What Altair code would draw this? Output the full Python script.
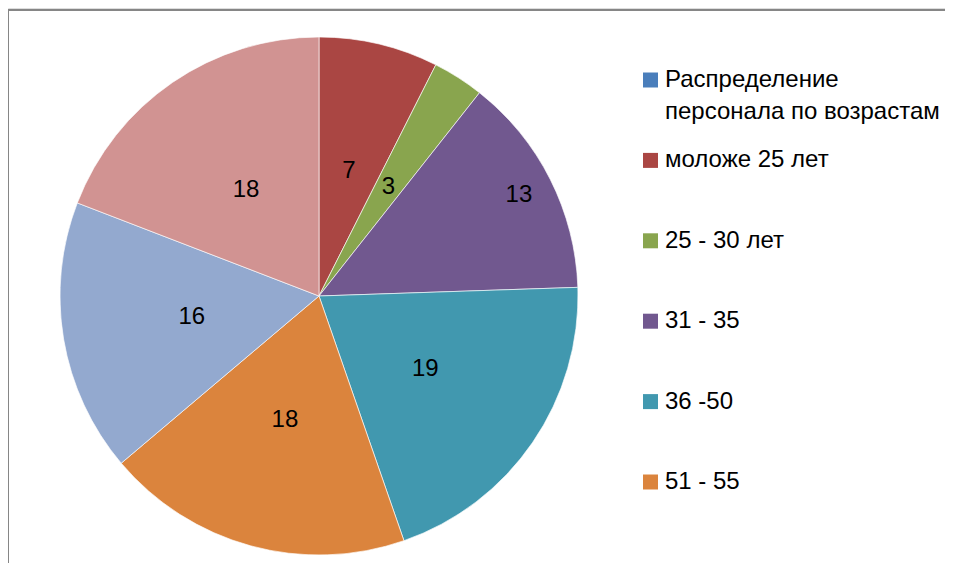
import altair as alt
import pandas as pd

# ---- data ----
categories = [
    "Распределение персонала по возрастам",
    "моложе 25 лет",
    "25 - 30 лет",
    "31 - 35",
    "36 -50",
    "51 - 55",
    "56 - 60",
    "старше 60",
]
values = [0, 7, 3, 13, 19, 18, 16, 18]
colors = ["#4A7EBB", "#AA4643", "#89A54E", "#71588F", "#4198AF", "#DB843D", "#93A9CF", "#D19392"]
legend_labels = [
    "Распределение\nперсонала по возрастам",
    "моложе 25 лет",
    "25 - 30 лет",
    "31 - 35",
    "36 -50",
    "51 - 55",
]
outer_label_category = "31 - 35"
title_text = "Распределение персонала по возрастам"

df = pd.DataFrame({"category": categories, "value": values, "idx": list(range(len(categories)))})
legend_df = pd.DataFrame({"category": categories[: len(legend_labels)], "label": legend_labels})

# ---- layout ----
W, H = 937, 555
CX, CY, R = 311, 288, 259
R_IN, R_OUT = 129, 224
FONT = "Liberation Sans"
FS = 24

color_scale = alt.Scale(domain=categories, range=colors)
order = alt.Order("idx:Q", sort="ascending")

frame_src = pd.DataFrame({"k": [0]})
frame_top = alt.Chart(frame_src).mark_rule(color="#868686", strokeWidth=2).encode(
    x=alt.value(0), x2=alt.value(W + 20), y=alt.value(2)
)
frame_left = alt.Chart(frame_src).mark_rule(color="#868686", strokeWidth=2).encode(
    x=alt.value(0), y=alt.value(1), y2=alt.value(H + 20)
)

pie = alt.Chart(df).mark_arc(radius=R, stroke="#ffffff", strokeWidth=0.8, strokeOpacity=0.8).encode(
    theta=alt.Theta("value:Q", stack=True),
    order=order,
    color=alt.Color("category:N", scale=color_scale, legend=None),
    x=alt.value(CX),
    y=alt.value(CY),
)

labels = (
    alt.Chart(df)
    .transform_window(cum="sum(value)", sort=[alt.SortField("idx", order="ascending")], frame=[None, 0])
    .transform_calculate(
        mid="datum.cum - datum.value / 2",
        lr=f"datum.category == '{outer_label_category}' ? {R_OUT} : {R_IN}",
    )
    .transform_filter("datum.value > 0")
    .mark_text(font=FONT, fontSize=FS, color="#000000", align="center", baseline="middle")
    .encode(
        theta=alt.Theta("mid:Q", stack=False),
        radius=alt.Radius("lr:Q", scale=None),
        text=alt.Text("value:Q"),
        x=alt.value(CX),
        y=alt.value(CY),
    )
)

ly = alt.Y(
    "category:N",
    scale=alt.Scale(type="point", domain=categories[: len(legend_labels)], range=[72, 474], padding=0),
    axis=None,
)

leg_sym = alt.Chart(legend_df).mark_square(size=225, opacity=1).encode(
    y=ly,
    x=alt.value(642.5),
    color=alt.Color("category:N", scale=color_scale, legend=None),
)

leg_txt = alt.Chart(legend_df).mark_text(
    align="left", baseline="middle", lineBreak="\n", lineHeight=32,
    font=FONT, fontSize=FS, color="#000000"
).encode(y=ly, x=alt.value(657), text="label:N")

chart = (
    alt.layer(frame_top, frame_left, pie, labels, leg_sym, leg_txt)
    .properties(
        width=W,
        height=H,
        padding=0,
        autosize=alt.AutoSizeParams(type="none"),
        title=alt.TitleParams(
            text=title_text, font="Liberation Serif", fontSize=28, fontWeight="bold",
            color="#000000", anchor="middle", dx=10, offset=2, baseline="alphabetic",
        ),
    )
    .configure_view(strokeWidth=0)
    .configure(background="#ffffff")
)

chart.save("out.html", embed_options={"renderer": "svg", "actions": False})
